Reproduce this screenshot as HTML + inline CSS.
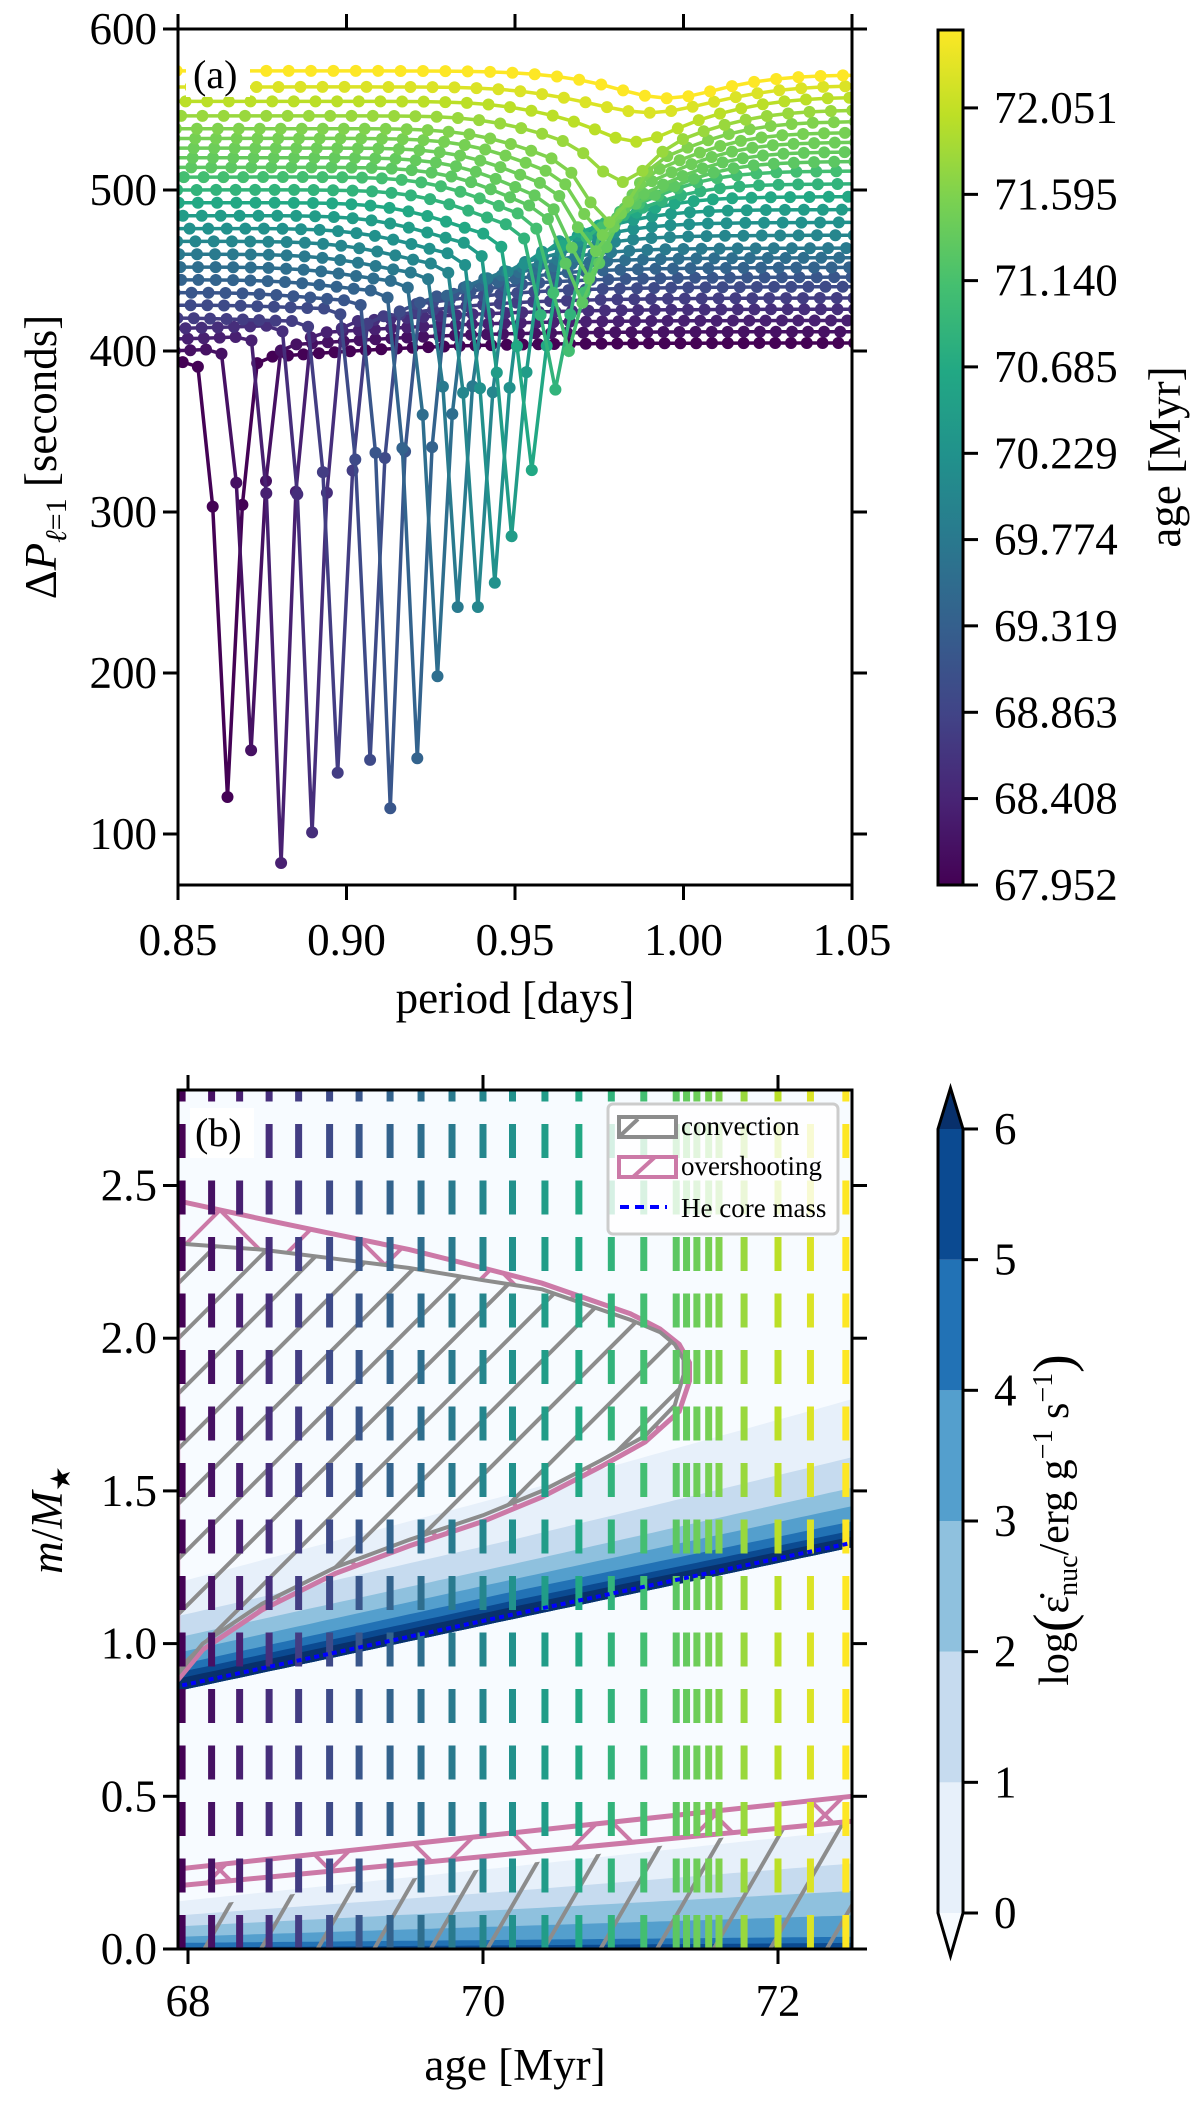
<!DOCTYPE html>
<html><head><meta charset="utf-8"><style>
html,body{margin:0;padding:0;background:#fff;}
svg, svg text{font-family:"Liberation Serif","Times New Roman",serif;}
</style></head><body>
<svg id="fig" width="1200" height="2100" viewBox="0 0 1200 2100" xmlns="http://www.w3.org/2000/svg" font-family="Liberation Serif, serif">
<defs>
  <clipPath id="clipA"><rect x="178" y="29" width="674" height="856"/></clipPath>
  <clipPath id="clipB"><rect x="178" y="1090" width="674" height="859"/></clipPath>
  <pattern id="hatchGray" width="39" height="39" patternUnits="userSpaceOnUse" patternTransform="rotate(45)">
    <line x1="19.5" y1="0" x2="19.5" y2="39" stroke="#8c8c8c" stroke-width="4"/>
  </pattern>
  <pattern id="hatchGraySteep" width="49" height="49" patternUnits="userSpaceOnUse" patternTransform="rotate(30)">
    <line x1="24.5" y1="0" x2="24.5" y2="49" stroke="#8c8c8c" stroke-width="4"/>
  </pattern>
  <pattern id="hatchPink" width="110" height="110" patternUnits="userSpaceOnUse">
    <line x1="0" y1="110" x2="110" y2="0" stroke="#cc79a7" stroke-width="4"/>
    <line x1="0" y1="0" x2="110" y2="110" stroke="#cc79a7" stroke-width="4"/>
  </pattern>
  <linearGradient id="viridisGrad" x1="0" y1="1" x2="0" y2="0">
    <stop offset="0" stop-color="#440154"/><stop offset="0.1" stop-color="#482475"/>
    <stop offset="0.2" stop-color="#414487"/><stop offset="0.3" stop-color="#355f8d"/>
    <stop offset="0.4" stop-color="#2a788e"/><stop offset="0.5" stop-color="#21918c"/>
    <stop offset="0.6" stop-color="#22a884"/><stop offset="0.7" stop-color="#44bf70"/>
    <stop offset="0.8" stop-color="#7ad151"/><stop offset="0.9" stop-color="#bddf26"/>
    <stop offset="1" stop-color="#fde725"/>
  </linearGradient>
</defs>
<g id="panelA">
  <g id="linesA" clip-path="url(#clipA)"></g>
  <rect x="186" y="55" width="64" height="42" fill="#fff"/>
  <text x="193" y="88" font-size="40" font-family="Liberation Serif, serif">(a)</text>
  <rect x="178" y="29" width="674" height="856" fill="none" stroke="#000" stroke-width="3"/>
  <g id="ticksA"></g>
  <text x="515" y="1013" font-size="45" font-family="Liberation Serif, serif" text-anchor="middle">period [days]</text>
  <text transform="translate(56,457) rotate(-90)" font-size="45" font-family="Liberation Serif, serif" text-anchor="middle">Δ<tspan font-style="italic">P</tspan><tspan font-size="30" dy="10" font-style="italic">ℓ</tspan><tspan font-size="30">=1</tspan><tspan dy="-10"> [seconds]</tspan></text>
  <rect x="938" y="30" width="25" height="855" fill="url(#viridisGrad)" stroke="#000" stroke-width="3"/>
  <g id="cbTicksA"></g>
  <text transform="translate(1180,457) rotate(-90)" font-size="45" font-family="Liberation Serif, serif" text-anchor="middle">age [Myr]</text>
</g>
<g id="panelB">
  <rect x="178" y="1090" width="674" height="859" fill="#f7fbff"/>
  <g id="contB" clip-path="url(#clipB)"></g>
  <g id="hatchB" clip-path="url(#clipB)"></g>
  <g id="agesB" clip-path="url(#clipB)"></g>
  <g id="coreB" clip-path="url(#clipB)"></g>
  <rect x="190" y="1108" width="64" height="50" fill="#fff"/>
  <text x="195" y="1146" font-size="40" font-family="Liberation Serif, serif">(b)</text>
  <g font-family="Liberation Serif, serif">
    <rect x="608" y="1104" width="230" height="130" rx="5" fill="#fff" fill-opacity="0.8" stroke="#cccccc" stroke-width="3"/>
    <g>
      <rect x="619" y="1117" width="57" height="20" fill="#fff" stroke="#8c8c8c" stroke-width="4"/>
      <line x1="621" y1="1135" x2="638" y2="1119" stroke="#8c8c8c" stroke-width="4"/>
      <text x="681" y="1135" font-size="27">convection</text>
    </g>
    <g>
      <rect x="619" y="1157" width="57" height="20" fill="none" stroke="#cc79a7" stroke-width="4"/>
      <line x1="633" y1="1177" x2="655" y2="1157" stroke="#cc79a7" stroke-width="4"/>
      <text x="681" y="1175" font-size="27">overshooting</text>
    </g>
    <g>
      <line x1="620" y1="1207" x2="667" y2="1207" stroke="#0000ff" stroke-width="4" stroke-dasharray="9 6"/>
      <text x="681" y="1217" font-size="27">He core mass</text>
    </g>
  </g>
  <rect x="178" y="1090" width="674" height="859" fill="none" stroke="#000" stroke-width="3"/>
  <g id="ticksB"></g>
  <text x="515" y="2080" font-size="45" font-family="Liberation Serif, serif" text-anchor="middle">age [Myr]</text>
  <text transform="translate(62,1520) rotate(-90)" font-size="45" font-family="Liberation Serif, serif" text-anchor="middle"><tspan font-style="italic">m</tspan>/<tspan font-style="italic">M</tspan><tspan font-size="28" dy="8">★</tspan></text>
  <g id="cbB"></g>
  <text transform="translate(1068,1520) rotate(-90)" font-size="42" font-family="Liberation Serif, serif" text-anchor="middle">log<tspan font-size="56" dy="4">(</tspan><tspan dy="-4">ε̇</tspan><tspan font-size="28" dy="9">nuc</tspan><tspan dy="-9">/erg g</tspan><tspan font-size="28" dy="-16">−1</tspan><tspan dy="16"> s</tspan><tspan font-size="28" dy="-16">−1</tspan><tspan font-size="56" dy="20">)</tspan></text>
</g>
</svg>
<script>
// ---------- data: panel (a) ----------
const modelAges = [67.96,68.16,68.35,68.55,68.75,68.96,69.16,69.37,69.58,69.79,70.00,70.20,70.42,70.65,70.87,71.09,71.31,71.38,71.45,71.53,71.60,71.77,72.00,72.22,72.46];
const leftLevel = [390,398,406,413,420,428,436,444,452,460,468,476,484,492,500,508,514,520,526,532,538,546,555,564,574];
const rightLevel = [405,412,419,426,433,440,446,452,458,464,472,480,488,496,504,512,518,524,530,536,543,550,558,565,571];
const dipPeriod = [0.8647,0.8717,0.8806,0.8898,0.8974,0.907,0.913,0.921,0.927,0.933,0.939,0.944,0.949,0.955,0.962,0.966,0.970,0.972,0.974,0.976,0.978,0.982,0.986,0.990,0.995];
const dipMin = [123,152,82,101,138,146,116,147,198,241,241,256,285,326,376,400,430,445,462,472,480,505,530,548,557];
const dipWidth = [0.0042,0.0042,0.004,0.0042,0.0042,0.0042,0.004,0.0042,0.0042,0.0042,0.0044,0.0046,0.0048,0.005,0.0055,0.006,0.0065,0.007,0.0075,0.008,0.0085,0.01,0.012,0.014,0.016];
const broadDepth = [0,0,0,0,5,5,8,10,12,15,18,20,22,25,28,30,32,32,30,28,26,22,18,14,10];
const periodTicks = [0.85,0.90,0.95,1.00,1.05];
const periodTickLabels = ["0.85","0.90","0.95","1.00","1.05"];
const dpTicks = [100,200,300,400,500,600];
const ageCbTicks = [67.952,68.408,68.863,69.319,69.774,70.229,70.685,71.140,71.595,72.051];
const ageCbLabels = ["67.952","68.408","68.863","69.319","69.774","70.229","70.685","71.140","71.595","72.051"];
// ---------- data: panel (b) ----------
const ageLines = [67.96,68.16,68.35,68.55,68.75,68.96,69.16,69.37,69.58,69.79,70.00,70.20,70.42,70.65,70.87,71.09,71.31,71.38,71.45,71.53,71.60,71.77,72.00,72.22,72.46];
const contourAges = [67.93,70.2,72.5];
const upperBounds = [
  [1.20,1.49,1.80],[1.09,1.34,1.61],[1.02,1.26,1.51],[0.97,1.21,1.45],[0.93,1.17,1.40],[0.905,1.14,1.37],[0.885,1.12,1.35]];
const coreMass = [0.86,1.095,1.33];
const lowerBounds = [[0.156,0.27,0.39],[0.11,0.19,0.28],[0.074,0.13,0.19],[0.04,0.075,0.11],[0.02,0.03,0.04],[0.005,0.012,0.02]];
const convUpperAge = [67.93,68.5,69,69.5,70,70.4,71,71.2,71.3,71.36];
const convUpperM = [2.31,2.29,2.26,2.23,2.19,2.16,2.06,2.02,1.98,1.93];
const convLowerAge = [71.36,71.3,71.1,70.8,70.4,70,69.5,69,68.5,68.1,67.93];
const convLowerM = [1.88,1.78,1.68,1.60,1.50,1.42,1.34,1.25,1.13,1.0,0.90];
const ovUpperAge = [67.93,68.5,69,69.5,70,70.4,71,71.2,71.33,71.4];
const ovUpperM = [2.45,2.39,2.34,2.29,2.23,2.18,2.08,2.03,1.98,1.92];
const ovLowerAge = [71.4,71.33,71.1,70.8,70.4,70,69.5,69,68.5,68.1,67.93];
const ovLowerM = [1.86,1.76,1.66,1.58,1.48,1.40,1.32,1.23,1.11,0.98,0.88];
const coreConvAge = [67.93,72.5];
const coreConvTop = [0.13,0.42];
const coreOvLower = [0.207,0.418];
const coreOvUpper = [0.262,0.50];
const mTicks = [0.0,0.5,1.0,1.5,2.0,2.5];
const mTickLabels = ["0.0","0.5","1.0","1.5","2.0","2.5"];
const ageTicks = [68,70,72];
const epsTicks = [0,1,2,3,4,5,6];
const epsColors = ["#e7f0fa","#c6dbef","#8fc1de","#549fcd","#2272b5","#0b4a91"];

const NS = "http://www.w3.org/2000/svg";
const FF = "Liberation Serif, serif";
function mk(tag, attrs, parent){const e=document.createElementNS(NS,tag);for(const k in attrs)e.setAttribute(k,attrs[k]);if(parent)parent.appendChild(e);return e;}
const VIR=["#440154","#482475","#414487","#355f8d","#2a788e","#21918c","#22a884","#44bf70","#7ad151","#bddf26","#fde725"];
function hex(c){return [parseInt(c.slice(1,3),16),parseInt(c.slice(3,5),16),parseInt(c.slice(5,7),16)];}
function viridis(t){t=Math.max(0,Math.min(1,t));const f=t*10,i=Math.min(9,Math.floor(f)),r=f-i;const a=hex(VIR[i]),b=hex(VIR[i+1]);return "rgb("+a.map((v,k)=>Math.round(v+(b[k]-v)*r)).join(",")+")";}
const AGE0=67.952, AGE1=72.462;
function ageColor(a){return viridis((a-AGE0)/(AGE1-AGE0));}
const xa=p=>178+(p-0.85)/0.2*674;
const ya=v=>29+(600-v)*1.61;
const xb=a=>188+(a-68)*147.5;
const yb=m=>1949-m*305.4;
function interp(xs,ys,x){if(x<=xs[0])return ys[0];for(let i=1;i<xs.length;i++){if(x<=xs[i]){const r=(x-xs[i-1])/(xs[i]-xs[i-1]);return ys[i-1]+r*(ys[i]-ys[i-1]);}}return ys[ys.length-1];}

// ---------- panel (a) ----------
const gA=document.getElementById("linesA");
function dpFunc(i,p){
  const L=leftLevel[i],R=rightLevel[i],c=dipPeriod[i];
  const base=L+(R-L)/(1+Math.exp(-(p-c-0.02)/0.025));
  const baseC=L+(R-L)/(1+Math.exp(0.02/0.025));
  const D=baseC-broadDepth[i]-dipMin[i];
  return base-broadDepth[i]*Math.exp(-Math.pow((p-c)/0.03,2))-D*Math.exp(-Math.pow((p-c)/dipWidth[i],2));
}
for(let i=0;i<modelAges.length;i++){
  const pts=[];let p=dipPeriod[i];
  pts.push([p,dpFunc(i,p)]);
  let q=p;while(q<1.07){const d=dpFunc(i,q);q=q+Math.max(d,380)/86400;pts.push([q,dpFunc(i,q)]);}
  q=p;while(q>0.83){const d=dpFunc(i,q);q=q-Math.max(d,380)/86400;pts.unshift([q,dpFunc(i,q)]);}
  const col=ageColor(modelAges[i]);
  const g=mk("g",{},gA);
  
  
  const line=mk("polyline",{points:pts.map(d=>xa(d[0]).toFixed(1)+","+ya(d[1]).toFixed(1)).join(" "),fill:"none",stroke:col,"stroke-width":3.5},g);
  
  
  pts.forEach(d=>{const c=mk("circle",{cx:xa(d[0]).toFixed(1),cy:ya(d[1]).toFixed(1),r:6,fill:col},g);
    
    });
}
const tA=document.getElementById("ticksA");
periodTicks.forEach((v,k)=>{const x=xa(v);
  const t1=mk("line",{x1:x,y1:885,x2:x,y2:900,stroke:"#000","stroke-width":3},tA);
  
  
  const t2=mk("line",{x1:x,y1:29,x2:x,y2:14,stroke:"#000","stroke-width":3},tA);
  
  
  const lb=mk("text",{x:x,y:955,"font-size":45,"font-family":FF,"text-anchor":"middle"},tA);lb.textContent=periodTickLabels[k];
  
  });
dpTicks.forEach(v=>{const y=ya(v);
  const t1=mk("line",{x1:163,y1:y,x2:178,y2:y,stroke:"#000","stroke-width":3},tA);
  
  
  const t2=mk("line",{x1:852,y1:y,x2:867,y2:y,stroke:"#000","stroke-width":3},tA);
  
  
  const lb=mk("text",{x:157,y:y+15,"font-size":45,"font-family":FF,"text-anchor":"end"},tA);lb.textContent=String(v);
  
  });
const cA=document.getElementById("cbTicksA");
const cby=a=>885-(a-AGE0)/(AGE1-AGE0)*855;
ageCbTicks.forEach((v,k)=>{const y=cby(v);
  const t=mk("line",{x1:963,y1:y,x2:978,y2:y,stroke:"#000","stroke-width":3},cA);
  
  
  const lb=mk("text",{x:994,y:y+15,"font-size":45,"font-family":FF},cA);lb.textContent=ageCbLabels[k];
  
  });

// ---------- panel (b) ----------
const gC=document.getElementById("contB");
const AX=[];for(let a=67.9;a<=72.55;a+=0.05)AX.push(a);
function bandPath(topArr,botArr){
  const top=AX.map(a=>xb(a).toFixed(1)+","+yb(interp(contourAges,topArr,a)).toFixed(1));
  const bot=AX.slice().reverse().map(a=>xb(a).toFixed(1)+","+yb(interp(contourAges,botArr,a)).toFixed(1));
  return "M"+top.join(" L")+" L"+bot.join(" L")+"Z";
}
const coreBelow=coreMass.map(v=>v-0.015);
for(let k=0;k<6;k++){
  const pth=mk("path",{d:bandPath(upperBounds[k],coreBelow),fill:epsColors[k]},gC);
  
  
}
const topCore=mk("path",{d:bandPath(upperBounds[6],coreBelow),fill:"#08306b"},gC);


for(let k=0;k<6;k++){
  const pth=mk("path",{d:bandPath(lowerBounds[k],[-0.05,-0.05,-0.05]),fill:epsColors[k]},gC);
  
  
}
const gH=document.getElementById("hatchB");
function poly(ages,ms){return ages.map((a,i)=>xb(a).toFixed(1)+","+yb(ms[i]).toFixed(1));}
const convPts=poly(convUpperAge,convUpperM).concat(poly(convLowerAge,convLowerM));
const ovPts=poly(ovUpperAge,ovUpperM).concat(poly(ovLowerAge,ovLowerM));
const ovRegion=mk("path",{d:"M"+ovPts.join(" L")+"Z M"+convPts.join(" L")+"Z","fill-rule":"evenodd",fill:"url(#hatchPink)"},gH);


const convRegion=mk("path",{d:"M"+convPts.join(" L")+"Z",fill:"url(#hatchGray)"},gH);


const ovLine=mk("path",{d:"M"+ovPts.join(" L")+"Z",fill:"none",stroke:"#cc79a7","stroke-width":5},gH);


const convLine=mk("path",{d:"M"+convPts.join(" L")+"Z",fill:"none",stroke:"#8c8c8c","stroke-width":4},gH);


const cc=poly(coreConvAge,coreConvTop);
const ccPath=mk("path",{d:"M"+xb(67.93)+","+yb(-0.05)+" L"+cc.join(" L")+" L"+xb(72.5)+","+yb(-0.05)+"Z",fill:"url(#hatchGraySteep)"},gH);


const ol=poly(coreConvAge,coreOvLower), ou=poly(coreConvAge,coreOvUpper);
const covReg=mk("path",{d:"M"+ou.join(" L")+" L"+ol.slice().reverse().join(" L")+"Z",fill:"url(#hatchPink)"},gH);


[ol,ou].forEach(pp=>{const l=mk("polyline",{points:pp.join(" "),fill:"none",stroke:"#cc79a7","stroke-width":5},gH);
  
  });
const gAg=document.getElementById("agesB");
ageLines.forEach(a=>{const l=mk("line",{x1:xb(a),y1:1949,x2:xb(a),y2:1090,stroke:ageColor(a),"stroke-width":7,"stroke-dasharray":"34 22.5"},gAg);
  
  });
const gCo=document.getElementById("coreB");
const coreLine=mk("polyline",{points:AX.map(a=>xb(a).toFixed(1)+","+yb(interp(contourAges,coreMass,a)).toFixed(1)).join(" "),fill:"none",stroke:"#0000ff","stroke-width":4,"stroke-dasharray":"5 4"},gCo);


const tB=document.getElementById("ticksB");
ageTicks.forEach(v=>{const x=xb(v);
  const t1=mk("line",{x1:x,y1:1949,x2:x,y2:1964,stroke:"#000","stroke-width":3},tB);
  
  
  const t2=mk("line",{x1:x,y1:1090,x2:x,y2:1075,stroke:"#000","stroke-width":3},tB);
  
  
  const lb=mk("text",{x:x,y:2016,"font-size":45,"font-family":FF,"text-anchor":"middle"},tB);lb.textContent=String(v);
  
  });
mTicks.forEach((v,k)=>{const y=yb(v);
  const t1=mk("line",{x1:163,y1:y,x2:178,y2:y,stroke:"#000","stroke-width":3},tB);
  
  
  const t2=mk("line",{x1:852,y1:y,x2:867,y2:y,stroke:"#000","stroke-width":3},tB);
  
  
  const lb=mk("text",{x:157,y:y+15,"font-size":45,"font-family":FF,"text-anchor":"end"},tB);lb.textContent=mTickLabels[k];
  
  });
const gCb=document.getElementById("cbB");
const cbyB=v=>1913-v*130.67;
for(let k=0;k<6;k++){const r=mk("rect",{x:938,y:cbyB(k+1),width:25,height:130.67,fill:epsColors[k]},gCb);
  
  }
const triTop=mk("polygon",{points:"938,1129 963,1129 950.5,1088",fill:"#08306b"},gCb);


const triBot=mk("polygon",{points:"938,1913 963,1913 950.5,1956",fill:"#f7fbff"},gCb);


const outl=mk("polygon",{points:"938,1129 950.5,1088 963,1129 963,1913 950.5,1956 938,1913",fill:"none",stroke:"#000","stroke-width":3},gCb);


epsTicks.forEach(v=>{const y=cbyB(v);
  const t=mk("line",{x1:963,y1:y,x2:978,y2:y,stroke:"#000","stroke-width":3},gCb);
  
  
  const lb=mk("text",{x:994,y:y+15,"font-size":45,"font-family":FF},gCb);lb.textContent=String(v);
  
  });
</script>
</body></html>
